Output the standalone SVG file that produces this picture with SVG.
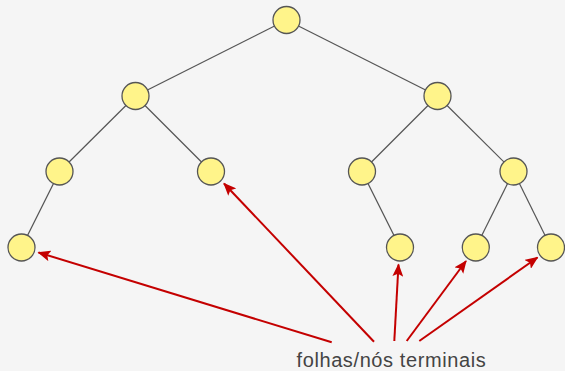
<svg xmlns="http://www.w3.org/2000/svg" width="565" height="371" viewBox="0 0 565 371">
<style>
.edge{stroke:#555;stroke-width:1.2;fill:none}
.node{fill:#fff48a;stroke:#555;stroke-width:1.3}
.ptr{stroke:#c40000;stroke-width:2;fill:none;marker-end:url(#ah)}
.lbl{font-family:"Liberation Sans",Arial,sans-serif;font-size:20px;fill:#444;letter-spacing:0.6px}
</style>
<defs>
<marker id="ah" viewBox="0 0 12 10" refX="11" refY="5" markerWidth="13" markerHeight="11" markerUnits="userSpaceOnUse" orient="auto">
<path d="M0,0 L12,5 L0,10 L2.5,5 Z" fill="#c40000"/>
</marker>
</defs>
<rect width="565" height="371" fill="#f5f5f5"/>
<g id="edges">
<line class="edge" x1="286.5" y1="20" x2="135.5" y2="96"/>
<line class="edge" x1="286.5" y1="20" x2="437.5" y2="96"/>
<line class="edge" x1="135.5" y1="96" x2="59.5" y2="171.5"/>
<line class="edge" x1="135.5" y1="96" x2="211" y2="171.5"/>
<line class="edge" x1="437.5" y1="96" x2="362" y2="171.5"/>
<line class="edge" x1="437.5" y1="96" x2="513.5" y2="171.5"/>
<line class="edge" x1="59.5" y1="171.5" x2="21.5" y2="247.5"/>
<line class="edge" x1="362" y1="171.5" x2="400" y2="247.5"/>
<line class="edge" x1="513.5" y1="171.5" x2="475.8" y2="247.5"/>
<line class="edge" x1="513.5" y1="171.5" x2="551" y2="247.5"/>
</g>
<g id="n0"><circle class="node" cx="286.5" cy="20" r="13.5"/></g>
<g id="n1"><circle class="node" cx="135.5" cy="96" r="13.5"/></g>
<g id="n2"><circle class="node" cx="437.5" cy="96" r="13.5"/></g>
<g id="n3"><circle class="node" cx="59.5" cy="171.5" r="13.5"/></g>
<g id="n4"><circle class="node" cx="211" cy="171.5" r="13.5"/></g>
<g id="n5"><circle class="node" cx="362" cy="171.5" r="13.5"/></g>
<g id="n6"><circle class="node" cx="513.5" cy="171.5" r="13.5"/></g>
<g id="n7"><circle class="node" cx="21.5" cy="247.5" r="13.5"/></g>
<g id="n8"><circle class="node" cx="400" cy="247.5" r="13.5"/></g>
<g id="n9"><circle class="node" cx="475.8" cy="247.5" r="13.5"/></g>
<g id="n10"><circle class="node" cx="551" cy="247.5" r="13.5"/></g>
<g id="pointers">
<line class="ptr" x1="331.7" y1="342.3" x2="38.5" y2="252.5"/>
<line class="ptr" x1="374" y1="341.7" x2="224" y2="183.5"/>
<line class="ptr" x1="394.3" y1="341" x2="398.5" y2="264.5"/>
<line class="ptr" x1="406.7" y1="341" x2="466" y2="261"/>
<line class="ptr" x1="419.3" y1="341" x2="537.5" y2="257.5"/>
</g>
<g id="label"><text class="lbl" x="296.5" y="366.7">folhas/nós terminais</text></g>
</svg>
